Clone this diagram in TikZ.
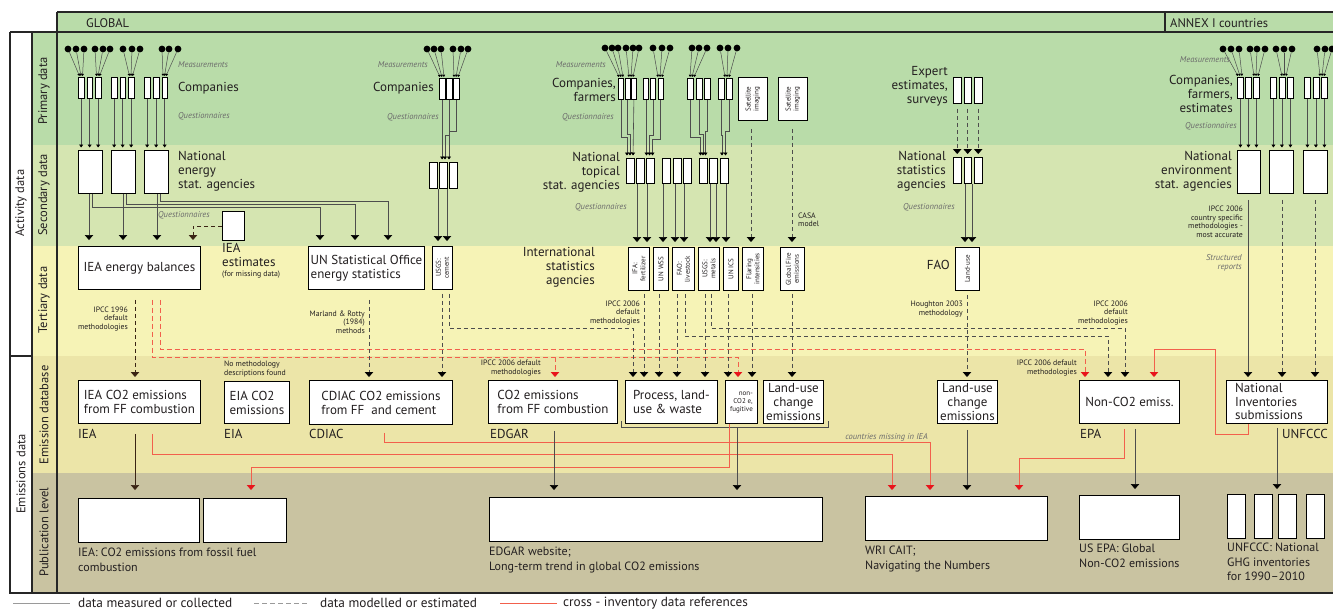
\documentclass[tikz,border=0pt]{standalone}
\usepackage{fontspec}
\setmainfont{PT Sans}
\usetikzlibrary{arrows.meta}
\definecolor{bPrim}{HTML}{B9DCA9}
\definecolor{bSec}{HTML}{D5E5B1}
\definecolor{bTer}{HTML}{F6F3B6}
\definecolor{bEm}{HTML}{ECE5A8}
\definecolor{bPub}{HTML}{C9C3A1}
\definecolor{lgr}{HTML}{4D4D4D}
\definecolor{leg}{HTML}{9A9A9A}
\definecolor{rln}{HTML}{F2604C}
\definecolor{rtp}{HTML}{E8141B}
\definecolor{itg}{HTML}{6B6B6B}
\definecolor{brn}{HTML}{3A2414}
\definecolor{txt}{HTML}{231F20}
\newcommand\fA{\fontsize{13}{14}\selectfont}
\newcommand\fD{\fontsize{13}{13.6}\selectfont}
\newcommand\fB{\fontsize{12}{14.5}\selectfont}
\newcommand\fC{\fontsize{12.5}{13}\selectfont}
\newcommand\fS{\fontsize{7.8}{8.5}\selectfont}
\newcommand\fI{\fontsize{8.5}{9.5}\selectfont\itshape}
\newcommand\fR{\fontsize{7}{8}\selectfont}
\newcommand\fL{\fontsize{13.3}{14}\selectfont}
\newcommand{\bx}[7][]{\node[box,anchor=north west,minimum width={#5-#3},minimum height={#6-#4},#1] (#2) at (#3,#4) {#7};}
\begin{document}
\begin{tikzpicture}[x=1pt,y=-1pt,
  box/.style={draw=black,fill=white,line width=0.9pt,inner sep=1pt,text=txt},
  sl/.style={draw=lgr,line width=0.6pt},
  dl/.style={draw=lgr,line width=0.75pt,dash pattern=on 4.5pt off 2.5pt},
  rs/.style={draw=rln,line width=0.75pt},
  rd/.style={draw=rln,line width=0.75pt,dash pattern=on 5pt off 3pt},
  ar/.style={-{Triangle[width=8.5pt,length=5pt,color=black]},shorten >=3pt},
  arb/.style={-{Triangle[width=8.5pt,length=5pt,color=brn]},shorten >=3pt},
  arr/.style={-{Triangle[width=8.5pt,length=5pt,color=rtp]},shorten >=3pt},
  sar/.style={-{Triangle[width=4pt,length=3pt,color=black]},shorten >=2.5pt},
  tar/.style={-{Triangle[width=2.6pt,length=2.2pt,color=black]}},
  dot/.style={circle,fill=black,inner sep=0pt,minimum size=6.8pt},
  pb/.style={draw=black,fill=white,line width=0.8pt,inner sep=0pt,anchor=north west,minimum height=21pt},
  frm/.style={draw=black!85,line width=1.1pt},
  txl/.style={inner sep=0pt,text=txt},
  itl/.style={inner sep=0pt,font=\fI,text=itg},
  sml/.style={inner sep=0pt,font=\fS,text=txt},
  rtx/.style={rotate=90,inner sep=0pt,font=\fR,align=center,text=txt},
]
\useasboundingbox (0,0) rectangle (1333,611);
\fill[white] (0,0) rectangle (1333,611);
% ---------- bands
\fill[bPrim] (57,12) rectangle (1333,145);
\fill[bPrim] (32,32) rectangle (57,145);
\fill[bSec] (32,145) rectangle (1333,246);
\fill[bTer] (32,246) rectangle (1333,356);
\fill[bEm] (32,356) rectangle (1333,473);
\fill[bPub] (32,473) rectangle (1333,593);
\draw[frm] (57,12) -- (1333,12);
\draw[frm] (10,32) -- (1333,32);
\draw[frm] (57,12) -- (57,593);
\draw[frm] (1165,12) -- (1165,32);
\draw[frm] (10,32) -- (10,593) -- (1333,593);
\draw[frm] (32,32) -- (32,593);
\draw[frm] (10,356) -- (32,356);
\node[txl,font=\fC,anchor=west] (hglob) at (86,23) {GLOBAL};
\node[txl,font=\fC,anchor=west] (hannex) at (1170,23) {ANNEX I countries};
\node[txl,font=\fC,rotate=90] (lact) at (21,203) {Activity data};
\node[txl,font=\fC,rotate=90] (lemi) at (21,474) {Emissions data};
\node[txl,font=\fC,rotate=90] (lpri) at (44,91) {Primary data};
\node[txl,font=\fC,rotate=90] (lsec) at (44,195) {Secondary data};
\node[txl,font=\fC,rotate=90] (lter) at (44,300) {Tertiary data};
\node[txl,font=\fC,rotate=90] (lemd) at (44,415) {Emission database};
\node[txl,font=\fC,rotate=90] (lpub) at (44,532) {Publication level};

% ---------- IEA group primary / secondary
\foreach \x [count=\i] in {78,86.5,95,111,119.5,128,144,153,161.5}
  {\node[pb,minimum width=5.5pt] (pa\i) at (\x,77) {};}
\bx{sa1}{78}{150}{102}{193}{}
\bx{sa2}{111}{150}{135}{193}{}
\bx{sa3}{144}{150}{168}{193}{}
\foreach \i/\j in {1/1,2/1,3/1,4/2,5/2,6/2,7/3,8/3,9/3}
  {\draw[sl,sar] (pa\i.south) -- (pa\i.south |- sa\j.north);}
\foreach \d/\t [count=\i] in {68/79.5,76/81,84/82.5,95/96.5,103/98,110/99.5,123/129.5,132/131,140/132.5,162/163,169/164.5,178/166}
  {\node[dot] (da\i) at (\d,49) {};
   \draw[sl,line width=0.5pt,tar] (da\i) -- (\t,76);}
\node[itl,anchor=west] (ma) at (178,65) {Measurements};
\node[txl,font=\fA,anchor=west] (ca) at (178,88) {Companies};
\node[itl,anchor=west] (qa) at (178,116) {Questionnaires};
\node[txl,font=\fA,anchor=west,align=left] (nea) at (178,171) {National\\energy\\stat. agencies};
\node[itl,anchor=west] (qa2) at (158,215) {Questionnaires};

% ---------- tertiary left
\bx[font=\fA]{ieabal}{78}{246}{200}{289}{IEA energy balances}
\bx{ieaest}{222}{211}{244}{240}{}
\node[txl,font=\fA,anchor=north west,align=left] (ieaestt) at (222,243) {IEA\\estimates};
\node[sml,anchor=west] (ieaestm) at (222,275) {(for missing data)};
\bx[font=\fA,align=left]{unstat}{308}{246}{424}{289}{UN Statistical Office\\energy statistics}
\bx{usgsc}{432}{246}{452}{289}{}
\node[rtx] (usgsct) at (usgsc.center) {USGS:\\cement};

\draw[sl,ar,shorten >=6pt] (89,0 |- sa1.south) -- (89,0 |- ieabal.north);
\draw[sl,ar,shorten >=6pt] (123,0 |- sa2.south) -- (123,0 |- ieabal.north);
\draw[sl,ar,shorten >=6pt] (157,0 |- sa3.south) -- (157,0 |- ieabal.north);
\draw[sl,ar,shorten >=6pt] (92,0 |- sa1.south) -- (92,207) -- (320,207) -- (320,0 |- unstat.north);
\draw[sl,ar,shorten >=6pt] (126,0 |- sa2.south) -- (126,204) -- (355,204) -- (355,0 |- unstat.north);
\draw[sl,ar,shorten >=6pt] (160,0 |- sa3.south) -- (160,201) -- (388,201) -- (388,0 |- unstat.north);
\draw[dl,draw=brn,arb,shorten >=6pt] (ieaest.west) -- (193,0 |- ieaest.west) -- (193,0 |- ieabal.north);

% ---------- CDIAC group
\foreach \x [count=\i] in {439,446,453}
  {\node[pb,minimum width=5.5pt] (pc\i) at (\x,78) {};}
\foreach \d/\t [count=\i] in {427/440,434/442,441/444,453/454,461/456,468/458}
  {\node[dot] (dc\i) at (\d,49) {};
   \draw[sl,line width=0.5pt,tar] (dc\i) -- (\t,77);}
\foreach \x [count=\i] in {429,439,449}
  {\bx{sc\i}{\x}{162}{\x+8}{188}{}}
\draw[sl,sar] (pc1.south) -- (pc1.south |- sc2.north);
\draw[sl,sar] (pc2.south) -- (pc2.south |- 0,135) -- (445,135) -- (445,0 |- sc2.north);
\draw[sl,sar] (pc3.south) -- (pc3.south |- 0,131) -- (449,131) -- (449,0 |- sc2.north);
\draw[sl,ar,shorten >=5pt] (438,0 |- sc1.south) -- (438,0 |- usgsc.north);
\draw[sl,ar,shorten >=5pt] (447,0 |- sc2.south) -- (447,0 |- usgsc.north);
\node[itl,anchor=east] (mc) at (428,65) {Measurements};
\node[txl,font=\fA,anchor=east] (cc) at (434,88) {Companies};
\node[itl,anchor=east] (qc) at (439,117) {Questionnaires};

% ---------- middle group
\foreach \x/\ww [count=\i] in {618/5,624.5/5,631/5,643/5,650/5,657.5/5,687/6,695.5/6,704/6,718/6,726/6}
  {\node[pb,minimum width=\ww pt] (pm\i) at (\x,78) {};}
\foreach \d/\t [count=\i] in {605/619,612/621,618/623,626/629,633/631,639/633,653/658,662/660,670/662,692/690,699/692,707/694,720/725,728/727,737/729}
  {\node[dot] (dm\i) at (\d,48) {};
   \draw[sl,line width=0.5pt,tar] (dm\i) -- (\t,77);}
\bx{sat1}{738}{77}{767}{120}{}
\node[rtx] (sat1t) at (sat1.center) {Satellite\\imaging};
\bx{sat2}{778}{77}{807}{120}{}
\node[rtx] (sat2t) at (sat2.center) {Satellite\\imaging};
\node[itl,anchor=east] (mm) at (606,65) {Measurements};
\node[txl,font=\fA,anchor=east,align=right] (cm) at (616,90) {Companies,\\farmers};
\node[itl,anchor=east] (qm) at (614,117) {Questionnaires};

\foreach \x [count=\i] in {626,636,646,662,673,683,699,709,720}
  {\bx{tb\i}{\x}{158}{\x+7.5}{183}{}}
\draw[sl,sar] (pm1.south) -- (pm1.south |- 0,137) -- (627,137) -- (627,0 |- tb1.north);
\draw[sl,sar] (pm2.south) -- (pm2.south |- 0,134) -- (630,134) -- (630,0 |- tb1.north);
\draw[sl,sar] (pm3.south) -- (633,0 |- tb1.north);
\draw[sl,sar] (pm4.south) -- (pm4.south |- 0,142) -- (646.5,142) -- (646.5,0 |- tb3.north);
\draw[sl,sar] (pm5.south) -- (pm5.south |- 0,135) -- (649.5,135) -- (649.5,0 |- tb3.north);
\draw[sl,sar] (pm6.south) -- (pm6.south |- 0,139) -- (652.5,139) -- (652.5,0 |- tb3.north);
\draw[sl,sar] (pm7.south) -- (pm7.south |- 0,137) -- (700.5,137) -- (700.5,0 |- tb7.north);
\draw[sl,sar] (pm8.south) -- (pm8.south |- 0,134) -- (703,134) -- (703,0 |- tb7.north);
\draw[sl,sar] (pm9.south) -- (pm9.south |- 0,131) -- (705.5,131) -- (705.5,0 |- tb7.north);
\draw[sl,sar] (pm10.south) -- (pm10.south |- 0,135) -- (722,135) -- (722,0 |- tb9.north);
\draw[sl,sar] (pm11.south) -- (pm11.south |- 0,131) -- (725.5,131) -- (725.5,0 |- tb9.north);
\node[txl,font=\fA,anchor=east,align=right] (nta) at (620,172) {National\\topical\\stat. agencies};
\node[itl,anchor=west] (qt) at (575,207) {Questionnaires};

% ---------- tertiary middle
\bx{ifa}{628}{247}{649}{290}{}
\bx{unwss}{653}{247}{668}{290}{}
\bx{fao}{672}{247}{694}{290}{}
\bx{usgsm}{698}{247}{719}{290}{}
\bx{unics}{723}{247}{738}{290}{}
\bx{flaring}{742}{247}{763}{290}{}
\bx{gfire}{780}{247}{804}{290}{}
\node[rtx] (ifat) at (ifa.center) {IFA:\\fertilizer};
\node[rtx] (unwsst) at (unwss.center) {UN WSS};
\node[rtx] (faot2) at (fao.center) {FAO:\\livestock};
\node[rtx] (usgsmt) at (usgsm.center) {USGS:\\metals};
\node[rtx] (unicst) at (unics.center) {UN ICS};
\node[rtx] (flaringt) at (flaring.center) {Flaring\\intensities};
\node[rtx] (gfiret) at (gfire.center) {Global Fire\\emissions};
\node[txl,font=\fA,anchor=east,align=right] (isa) at (595,267) {International\\statistics\\agencies};
\foreach \x/\s/\t in {637/tb2/ifa,647/tb3/ifa,663/tb4/unwss,675/tb5/fao,684/tb6/fao,710/tb8/usgsm,716/tb8/usgsm,726/tb9/unics}
  {\draw[sl,ar,shorten >=5pt] (\x,0 |- \s.south) -- (\x,0 |- \t.north);}
\draw[dl,ar,shorten <=8pt,shorten >=5pt] (751,0 |- sat1.south) -- (751,0 |- flaring.north);
\draw[dl,ar,shorten <=8pt,shorten >=5pt] (792,0 |- sat2.south) -- (792,0 |- gfire.north);
\node[sml,anchor=west,align=left] (casa) at (798,220) {CASA\\model};

% ---------- expert / national statistics / FAO
\foreach \x [count=\i] in {953,963.5,974} {
  \bx{ex\i}{\x}{77}{\x+7.5}{103}{}
  \bx{ns\i}{\x}{157}{\x+7.5}{183}{}
  \draw[dl,ar,shorten <=5pt] (ex\i.south) -- (ex\i.south |- ns\i.north);
}
\bx{landuse}{955}{247}{979}{290}{}
\node[rtx] (landuset) at (landuse.center) {Land-use};
\draw[sl,ar,shorten >=5pt] (965,0 |- ns2.south) -- (965,0 |- landuse.north);
\draw[sl,ar,shorten >=5pt] (972,0 |- ns2.south) -- (972,0 |- landuse.north);
\node[txl,font=\fA,anchor=east,align=right] (exp) at (948,86) {Expert\\estimates,\\surveys};
\node[txl,font=\fA,anchor=east,align=right] (nsa) at (946,171) {National\\statistics\\agencies};
\node[itl,anchor=west] (qn) at (903,207) {Questionnaires};
\node[txl,font=\fA,anchor=east] (faot) at (950,265) {FAO};

% ---------- ANNEX I group
\foreach \x [count=\i] in {1237,1245,1253,1270,1278.5,1287,1304,1312.5,1321}
  {\node[pb,minimum width=6pt] (pn\i) at (\x,77) {};}
\bx{sn1}{1237}{150}{1260}{193}{}
\bx{sn2}{1269}{150}{1293}{193}{}
\bx{sn3}{1303}{150}{1327}{193}{}
\foreach \i/\j in {1/1,2/1,3/1,4/2,5/2,6/2,7/3,8/3,9/3}
  {\draw[sl,sar] (pn\i.south) -- (pn\i.south |- sn\j.north);}
\foreach \d/\t [count=\i] in {1223/1238,1231/1240,1239/1242,1250/1254,1257/1256,1265/1258,1276/1282,1284/1284,1292/1286,1317/1320,1325/1322,1332/1324}
  {\node[dot] (dn\i) at (\d,49) {};
   \draw[sl,line width=0.5pt,tar] (dn\i) -- (\t,76);}
\node[itl,anchor=east] (mn) at (1230,60) {Measurements};
\node[txl,font=\fA,anchor=east,align=right] (cn) at (1233,94) {Companies,\\farmers,\\estimates};
\node[itl,anchor=east] (qn2) at (1237,126) {Questionnaires};
\node[txl,font=\fA,anchor=east,align=right] (nen) at (1232,171) {National\\environment\\stat. agencies};
\node[sml,anchor=east,align=right] (ipccn) at (1243,222) {IPCC 2006\\country specific\\methodologies -\\most accurate};
\node[itl,anchor=east,align=right] (strr) at (1242,263) {Structured\\reports};

% ---------- emission database
\bx[font=\fA,align=left]{ieaco2}{78}{380}{200}{423}{IEA CO2 emissions\\from FF combustion}
\bx[font=\fA,align=left]{eia}{224}{381}{289}{423}{EIA CO2\\emissions}
\bx[font=\fA,align=left]{cdiac}{309}{380}{452}{424}{CDIAC CO2 emissions\\from FF~ and cement}
\bx[font=\fA,align=left]{edgar}{488}{380}{617}{423}{CO2 emissions\\from FF combustion}
\bx[font=\fA,align=left]{proc}{625}{380}{717}{423}{Process, land-\\use \& waste}
\bx[font=\fR,align=right]{nonco2f}{725}{380}{757}{423}{non-\\CO2 e,\\fugitive}
\bx[font=\fD,align=center,inner sep=0pt]{luce}{763}{380}{823}{423}{Land-use\\change\\emissions}
\bx[font=\fD,align=center,inner sep=0pt]{luh}{937}{380}{997}{423}{Land-use\\change\\emissions}
\bx[font=\fA]{epa}{1079}{380}{1179}{423}{Non-CO2 emiss.}
\node[box,anchor=north west,minimum width=101pt,minimum height=43pt] (natinv) at (1226,380) {};
\node[txl,font=\fD,anchor=west,align=left] (natinvt) at (1235,401.5) {National\\Inventories\\submissions};
\node[txl,font=\fA,anchor=west] (liea) at (78,434) {IEA};
\node[txl,font=\fA,anchor=west] (leia) at (224,434) {EIA};
\node[txl,font=\fA,anchor=west] (lcdiac) at (309,434) {CDIAC};
\node[txl,font=\fA,anchor=west] (ledgar) at (490,434) {EDGAR};
\node[txl,font=\fA,anchor=west] (lepa) at (1080,434) {EPA};
\node[txl,font=\fA,anchor=west] (lunf) at (1282,434) {UNFCCC};
\draw[sl] (621,421) -- (621,427) -- (828,427) -- (828,421);
\coordinate (brk) at (737,427);

% ---------- tertiary -> emission database
\draw[dl,draw=brn,arb,shorten <=10pt] (135,0 |- ieabal.south) -- (135,0 |- ieaco2.north);
\draw[rd,arr,shorten <=10pt] (152,0 |- ieabal.south) -- (152,357) -- (738,357) -- (738,0 |- nonco2f.north);
\draw[rd,arr] (555,357) -- (555,0 |- edgar.north);
\draw[rd,arr,shorten <=10pt] (160,0 |- ieabal.south) -- (160,349) -- (1085,349) -- (1085,0 |- epa.north);
\draw[dl,ar,shorten <=10pt] (369,0 |- unstat.south) -- (369,0 |- cdiac.north);
\draw[dl,ar,shorten <=4pt] (442,0 |- usgsc.south) -- (442,0 |- cdiac.north);
\draw[dl,ar,shorten <=4pt] (449,0 |- usgsc.south) -- (449,328) -- (633,328) -- (633,0 |- proc.north);
\draw[dl,ar,shorten <=3pt] (644,0 |- ifa.south) -- (644,0 |- proc.north);
\draw[dl,ar,shorten <=3pt] (659,0 |- unwss.south) -- (659,0 |- proc.north);
\draw[dl,ar,shorten <=3pt] (677,0 |- fao.south) -- (677,0 |- proc.north);
\draw[dl,ar,shorten <=3pt] (705,0 |- usgsm.south) -- (705,0 |- proc.north);
\draw[dl,ar,shorten <=3pt] (685,0 |- fao.south) -- (685,336) -- (1108,336) -- (1108,0 |- epa.north);
\draw[dl,ar,shorten <=3pt] (711,0 |- usgsm.south) -- (711,328) -- (1125,328) -- (1125,0 |- epa.north);
\draw[dl,ar,shorten <=3pt] (728,0 |- unics.south) -- (728,0 |- nonco2f.north);
\draw[dl,ar,shorten <=3pt] (752,0 |- flaring.south) -- (752,0 |- nonco2f.north);
\draw[dl,ar,shorten <=3pt] (792,0 |- gfire.south) -- (792,0 |- luce.north);
\draw[dl,ar,shorten <=4pt] (967,0 |- landuse.south) -- (967,0 |- luh.north);
\draw[sl,ar,shorten <=6pt] (1248,0 |- sn1.south) -- (1248,0 |- natinv.north);
\draw[dl,ar,shorten <=6pt] (1282,0 |- sn2.south) -- (1282,0 |- natinv.north);
\draw[dl,ar,shorten <=6pt] (1315,0 |- sn3.south) -- (1315,0 |- natinv.north);
\draw[rs,arr] (1248,0 |- natinv.south) -- (1248,434) -- (1215,434) -- (1215,349) -- (1154,349) -- (1154,0 |- epa.north);

\node[sml,anchor=east,align=right] (m1) at (128,319) {IPCC 1996\\default\\methodologies};
\node[sml,anchor=east,align=right] (m2) at (365,322) {Marland \& Rotty\\(1984)\\methods};
\node[sml,anchor=east,align=right] (m3) at (640,313) {IPCC 2006\\default\\methodologies};
\node[sml,anchor=east,align=right] (m4) at (963,309) {Houghton 2003\\methodology};
\node[sml,anchor=east,align=right] (m5) at (1128,313) {IPCC 2006\\default\\methodologies};
\node[sml,anchor=east,align=right] (m6) at (541,368) {IPCC 2006 default\\methodologies};
\node[sml,anchor=east,align=right] (m7) at (1077,368) {IPCC 2006 default\\methodologies};
\node[sml,anchor=west,align=left] (m8) at (224,369) {No methodology\\descriptions found};
\node[itl,anchor=east] (m9) at (928,437) {countries missing in IEA};

% ---------- publication level
\bx{pubiea1}{78}{498}{199}{542}{}
\bx{pubiea2}{203}{498}{286}{542}{}
\bx{pubedgar}{489}{497}{822}{541}{}
\bx{pubwri}{865}{496}{1047}{540}{}
\bx{pubepa}{1079}{495}{1179}{539}{}
\bx{pubu1}{1227}{494}{1245}{538}{}
\bx{pubu2}{1254}{494}{1272}{538}{}
\bx{pubu3}{1278}{494}{1296}{538}{}
\bx{pubu4}{1306}{494}{1324}{538}{}
\node[txl,font=\fB,anchor=north west,align=left] (lpiea) at (78,548) {IEA: CO2 emissions from fossil fuel\\combustion};
\node[txl,font=\fB,anchor=north west,align=left] (lpedgar) at (489,547) {EDGAR website;\\Long-term trend in global CO2 emissions};
\node[txl,font=\fB,anchor=north west,align=left] (lpwri) at (865,546) {WRI CAIT;\\Navigating the Numbers};
\node[txl,font=\fB,anchor=north west,align=left] (lpepa) at (1079,544) {US EPA: Global\\Non-CO2 emissions};
\node[txl,font=\fB,anchor=north west,align=left] (lpunf) at (1227,543) {UNFCCC: National\\GHG inventories\\for 1990--2010};

% ---------- emission database -> publication
\draw[sl,draw=brn,arb,shorten <=10pt,shorten >=8pt] (135,0 |- ieaco2.south) -- (135,0 |- pubiea1.north);
\draw[rs,arr,shorten >=8pt] (729,0 |- nonco2f.south) -- (729,467) -- (251,467) -- (251,0 |- pubiea2.north);
\draw[rs,arr,shorten <=10pt,shorten >=6pt] (152,0 |- ieaco2.south) -- (152,454) -- (892,454) -- (892,0 |- pubwri.north);
\draw[rs,arr,shorten <=8pt,shorten >=6pt] (384,0 |- cdiac.south) -- (384,442) -- (930,442) -- (930,0 |- pubwri.north);
\draw[rs,arr,shorten <=5pt,shorten >=6pt] (1124,0 |- epa.south) -- (1124,458) -- (1019,458) -- (1019,0 |- pubwri.north);
\draw[sl,ar,shorten <=7pt,shorten >=7pt] (554,0 |- edgar.south) -- (554,0 |- pubedgar.north);
\draw[sl,ar,shorten >=7pt] (brk) -- (737,0 |- pubedgar.north);
\draw[sl,ar,shorten <=6pt,shorten >=6pt] (967,0 |- luh.south) -- (967,0 |- pubwri.north);
\draw[sl,ar,shorten <=5pt,shorten >=6pt] (1135,0 |- epa.south) -- (1135,0 |- pubepa.north);
\draw[sl,ar,shorten <=4pt,shorten >=5pt] (1277,0 |- natinv.south) -- (1277,0 |- pubu3.north);

% ---------- legend
\coordinate (lgA) at (13,603); \coordinate (lgB) at (70,603);
\draw[draw=leg,line width=0.9pt] (lgA) -- (lgB);
\node[txl,font=\fL,anchor=west] (lg1) at (78,603) {data measured or collected};
\coordinate (lgC) at (254,603); \coordinate (lgD) at (309,603);
\draw[draw=leg,line width=0.9pt,dash pattern=on 5pt off 3pt] (lgC) -- (lgD);
\node[txl,font=\fL,anchor=west] (lg2) at (320,603) {data modelled or estimated};
\coordinate (lgE) at (500,603); \coordinate (lgF) at (557,603);
\draw[draw=rln,line width=0.9pt] (lgE) -- (lgF);
\node[txl,font=\fL,anchor=west] (lg3) at (563,603) {cross - inventory data references};
\end{tikzpicture}
\end{document}
